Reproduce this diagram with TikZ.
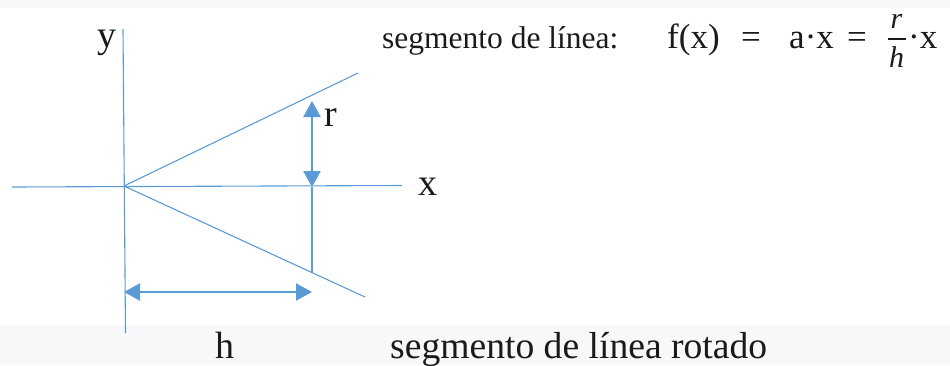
\documentclass[tikz,border=0pt]{standalone}
\usepackage{fontspec}
\setmainfont{Liberation Serif}
\usetikzlibrary{arrows.meta}
\definecolor{lineblue}{HTML}{5B9BD5}
\definecolor{bandgray}{HTML}{F7F8FA}
\definecolor{inkcol}{HTML}{1A1A1A}
\begin{document}
\begin{tikzpicture}[x=1pt,y=-1pt,
  axis/.style={lineblue, line width=1.1pt},
  dimarrow/.style={lineblue, line width=2.4pt, {Triangle[length=16pt,width=17pt]}-{Triangle[length=16pt,width=17pt]}},
  lbl/.style={inner sep=0pt, anchor=base west, text=inkcol, font=\fontsize{38}{44}\selectfont},
  seglbl/.style={lbl, font=\fontsize{31.5}{36}\selectfont},
  caplbl/.style={lbl, font=\fontsize{37.6}{44}\selectfont},
  fml/.style={lbl, font=\fontsize{35}{40}\selectfont},
  fracpart/.style={inner sep=0pt, anchor=base, text=inkcol, font=\fontsize{30}{34}\selectfont\itshape}]
\useasboundingbox (0,0) rectangle (950,365);
\fill[bandgray] (0,0) rectangle (950,7.5);
\fill[bandgray] (0,325) rectangle (950,365);
% geometry
\coordinate (O) at (124,186);
\coordinate (yT) at (123,29);
\coordinate (yB) at (125.5,333);
\coordinate (xL) at (12,187);
\coordinate (xR) at (402,185.5);
\coordinate (U) at (358,73);
\coordinate (Lo) at (365,297);
\coordinate (rT) at (312,101);
\coordinate (rB) at (312,187);
\coordinate (vB) at (312,272.5);
\coordinate (hL) at (124,292);
\coordinate (hR) at (312,292);
\draw[axis] (yT) -- (yB);
\draw[axis] (xL) -- (xR);
\draw[axis] (O) -- (U);
\draw[axis] (O) -- (Lo);
\draw[axis] (rB) -- (vB);
\draw[dimarrow] (rB) -- (rT);
\draw[dimarrow] (hL) -- (hR);
% labels
\node[lbl] (ly) at (97,47) {y};
\node[lbl] (lr) at (324,126) {r};
\node[lbl] (lx) at (418,195) {x};
\node[lbl] (lh) at (215,358) {h};
\node[caplbl] (cap) at (390,358) {segmento de línea rotado};
\node[seglbl] (seg) at (382,48) {segmento de línea:};
% formula
\node[fml] (f1) at (667,48) {f(x)};
\node[fml] (e1) at (741,48) {=};
\node[fml] (ax) at (789,48) {a·x};
\node[fml] (e2) at (847,48) {=};
\coordinate (bl) at (888,39);
\coordinate (br) at (906,39);
\draw[inkcol, line width=2.4pt] (bl) -- (br);
\node[fracpart] (num) at (896.5,28) {r};
\node[fracpart] (den) at (896.5,67) {h};
\node[fml] (dx) at (908,48) {·x};
\end{tikzpicture}
\end{document}
